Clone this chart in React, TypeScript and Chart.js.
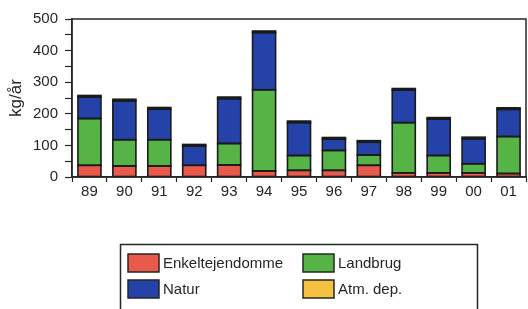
import React, { useEffect, useRef } from "react";
import { Chart, registerables } from "chart.js";

Chart.register(...registerables);

const years = ["89", "90", "91", "92", "93", "94", "95", "96", "97", "98", "99", "00", "01"];
const enkeltejendomme = [37, 35, 35, 37, 38, 19, 21, 21, 37, 13, 13, 13, 11];
const landbrug = [148, 83, 83, 0, 68, 257, 47, 63, 32, 159, 55, 29, 117];
const natur = [68, 123, 97, 61, 142, 181, 104, 36, 41, 103, 115, 79, 86];
const atmDep = [5, 5, 5, 5, 5, 5, 5, 5, 5, 5, 5, 5, 5];

const FONT = "'Liberation Sans', Arial, Helvetica, sans-serif";
const INK = "#262626";
const EDGE = "#1a1a1a";

const framePlugin = {
  id: "frame",
  afterDraw(chart: any) {
    const { ctx, chartArea } = chart;
    ctx.save();
    ctx.strokeStyle = INK;
    ctx.lineWidth = 1.5;
    ctx.strokeRect(chartArea.left, chartArea.top, chartArea.right - chartArea.left, chartArea.bottom - chartArea.top);
    ctx.restore();
  },
};

const outlinePlugin = {
  id: "barOutline",
  afterDatasetsDraw(chart: any) {
    const { ctx } = chart;
    ctx.save();
    ctx.strokeStyle = EDGE;
    ctx.lineWidth = 1.6;
    chart.getSortedVisibleDatasetMetas().forEach((meta: any) => {
      meta.data.forEach((el: any) => {
        const { x, y, base, width } = el.getProps(["x", "y", "base", "width"], true);
        const h = Math.abs(base - y);
        if (h < 0.5) return;
        ctx.strokeRect(x - width / 2, Math.min(y, base), width, h);
      });
    });
    ctx.restore();
  },
};

const legendPlugin = {
  id: "boxLegend",
  afterDraw(chart: any) {
    const { ctx } = chart;
    const ds = chart.data.datasets;
    ctx.save();
    ctx.strokeStyle = INK;
    ctx.lineWidth = 1.5;
    ctx.strokeRect(120.5, 244.5, 357, 90);
    const cols = [128, 303];
    const rows = [254, 280];
    ctx.font = `15px ${FONT}`;
    ctx.textBaseline = "middle";
    ds.forEach((d: any, i: number) => {
      const x = cols[i % 2];
      const y = rows[Math.floor(i / 2)];
      ctx.fillStyle = d.backgroundColor;
      ctx.fillRect(x, y, 31, 18);
      ctx.strokeStyle = INK;
      ctx.lineWidth = 1.5;
      ctx.strokeRect(x, y, 31, 18);
      ctx.fillStyle = INK;
      ctx.fillText(d.label, x + 35, y + 10);
    });
    ctx.restore();
  },
};

export default function App() {
  const ref = useRef<HTMLCanvasElement>(null);
  useEffect(() => {
    if (!ref.current) return;
    const common = { borderWidth: 0 };
    const chart = new Chart(ref.current, {
      type: "bar",
      data: {
        labels: years,
        datasets: [
          { label: "Enkeltejendomme", data: enkeltejendomme, backgroundColor: "#e85a4c", ...common },
          { label: "Landbrug", data: landbrug, backgroundColor: "#55b445", ...common },
          { label: "Natur", data: natur, backgroundColor: "#2442a8", ...common },
          { label: "Atm. dep.", data: atmDep, backgroundColor: "#f4c240", ...common },
        ],
      },
      options: {
        responsive: false,
        animation: false,
        layout: { padding: { top: 19, right: 2, bottom: 102, left: 0 } },
        datasets: { bar: { barPercentage: 0.66, categoryPercentage: 1, inflateAmount: 0 } },
        plugins: { legend: { display: false }, tooltip: { enabled: false } },
        scales: {
          x: {
            stacked: true,
            afterFit: (s: any) => { s.height = 30; },
            grid: { offset: true, drawOnChartArea: false, drawTicks: true, tickLength: 5, color: INK, tickWidth: 1.2 },
            border: { display: true, color: INK, width: 1.5 },
            ticks: { font: { size: 15, family: FONT }, color: INK, padding: 1, maxRotation: 0 },
          },
          y: {
            stacked: true,
            min: 0,
            max: 500,
            afterFit: (s: any) => { s.width = 72; },
            grid: { drawOnChartArea: false, drawTicks: true, tickLength: 7, color: INK, tickWidth: 1.2 },
            border: { display: true, color: INK, width: 1.5 },
            ticks: {
              stepSize: 50,
              autoSkip: false,
              font: { size: 15, family: FONT },
              color: INK,
              padding: 7,
              callback: (v: any) => (Number(v) % 100 === 0 ? String(v) : ""),
            },
            title: {
              display: true,
              text: "kg/år",
              font: { size: 17, family: FONT },
              color: INK,
              padding: { top: 6, bottom: 0 },
            },
          },
        },
      },
      plugins: [outlinePlugin, framePlugin, legendPlugin],
    });
    return () => chart.destroy();
  }, []);
  return (
    <div style={{ position: "fixed", left: 0, top: 0, width: 528, height: 309, background: "#fff" }}>
      <canvas ref={ref} width={528} height={309} />
    </div>
  );
}
